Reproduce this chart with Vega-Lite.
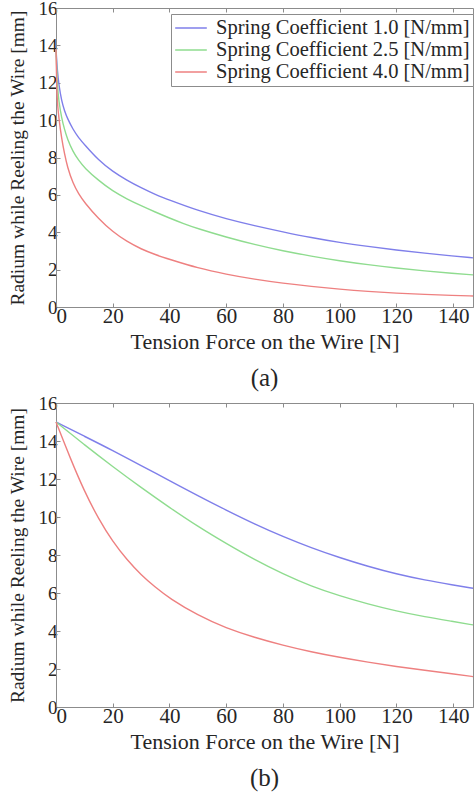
{
  "$schema": "https://vega.github.io/schema/vega-lite/v6.json",
  "padding": {"left": 6, "top": -2, "right": 0, "bottom": 0},
  "spacing": 1,
  "config": {
    "font": "Liberation Serif",
    "view": {"stroke": "#8c8c8c", "strokeWidth": 1},
    "axis": {"labelFont": "Liberation Serif", "labelFontSize": 21, "labelColor": "#262626", "labelOverlap": false, "titleFont": "Liberation Serif", "titleFontSize": 22, "titleFontWeight": "normal", "titleColor": "#262626", "domainColor": "#8c8c8c", "tickColor": "#8c8c8c", "grid": false},
    "title": {"font": "Liberation Serif", "fontSize": 25, "fontWeight": "normal", "color": "#262626", "orient": "bottom", "offset": 14},
    "line": {"strokeWidth": 1.4, "interpolate": "basis"}
  },
  "datasets": {
    "a": [
      {"k": "1.0", "F": 0, "R": 13.8}, {"k": "1.0", "F": 0.5, "R": 12.6}, {"k": "1.0", "F": 1, "R": 11.9}, {"k": "1.0", "F": 2, "R": 11.0}, {"k": "1.0", "F": 3, "R": 10.5}, {"k": "1.0", "F": 4, "R": 10.1}, {"k": "1.0", "F": 6, "R": 9.5}, {"k": "1.0", "F": 8, "R": 9.05}, {"k": "1.0", "F": 10, "R": 8.7}, {"k": "1.0", "F": 15, "R": 7.85}, {"k": "1.0", "F": 20, "R": 7.25}, {"k": "1.0", "F": 25, "R": 6.78}, {"k": "1.0", "F": 30, "R": 6.38}, {"k": "1.0", "F": 35, "R": 6.02}, {"k": "1.0", "F": 40, "R": 5.72}, {"k": "1.0", "F": 50, "R": 5.16}, {"k": "1.0", "F": 60, "R": 4.72}, {"k": "1.0", "F": 70, "R": 4.35}, {"k": "1.0", "F": 80, "R": 4.02}, {"k": "1.0", "F": 90, "R": 3.71}, {"k": "1.0", "F": 100, "R": 3.45}, {"k": "1.0", "F": 110, "R": 3.24}, {"k": "1.0", "F": 120, "R": 3.05}, {"k": "1.0", "F": 130, "R": 2.88}, {"k": "1.0", "F": 140, "R": 2.73}, {"k": "1.0", "F": 147, "R": 2.63},
      {"k": "2.5", "F": 0, "R": 13.8}, {"k": "2.5", "F": 0.5, "R": 11.8}, {"k": "2.5", "F": 1, "R": 11.0}, {"k": "2.5", "F": 2, "R": 10.1}, {"k": "2.5", "F": 3, "R": 9.5}, {"k": "2.5", "F": 4, "R": 9.0}, {"k": "2.5", "F": 6, "R": 8.3}, {"k": "2.5", "F": 8, "R": 7.85}, {"k": "2.5", "F": 10, "R": 7.45}, {"k": "2.5", "F": 15, "R": 6.77}, {"k": "2.5", "F": 20, "R": 6.2}, {"k": "2.5", "F": 25, "R": 5.78}, {"k": "2.5", "F": 30, "R": 5.42}, {"k": "2.5", "F": 35, "R": 5.08}, {"k": "2.5", "F": 40, "R": 4.76}, {"k": "2.5", "F": 45, "R": 4.46}, {"k": "2.5", "F": 50, "R": 4.19}, {"k": "2.5", "F": 60, "R": 3.74}, {"k": "2.5", "F": 70, "R": 3.34}, {"k": "2.5", "F": 80, "R": 3.0}, {"k": "2.5", "F": 90, "R": 2.72}, {"k": "2.5", "F": 100, "R": 2.47}, {"k": "2.5", "F": 110, "R": 2.26}, {"k": "2.5", "F": 120, "R": 2.08}, {"k": "2.5", "F": 130, "R": 1.93}, {"k": "2.5", "F": 140, "R": 1.8}, {"k": "2.5", "F": 147, "R": 1.72},
      {"k": "4.0", "F": 0, "R": 13.8}, {"k": "4.0", "F": 0.25, "R": 11.8}, {"k": "4.0", "F": 0.5, "R": 10.9}, {"k": "4.0", "F": 1, "R": 10.1}, {"k": "4.0", "F": 2, "R": 9.0}, {"k": "4.0", "F": 3, "R": 8.2}, {"k": "4.0", "F": 4, "R": 7.5}, {"k": "4.0", "F": 6, "R": 6.6}, {"k": "4.0", "F": 8, "R": 6.05}, {"k": "4.0", "F": 10, "R": 5.6}, {"k": "4.0", "F": 15, "R": 4.72}, {"k": "4.0", "F": 20, "R": 4.02}, {"k": "4.0", "F": 25, "R": 3.5}, {"k": "4.0", "F": 30, "R": 3.1}, {"k": "4.0", "F": 35, "R": 2.8}, {"k": "4.0", "F": 40, "R": 2.55}, {"k": "4.0", "F": 50, "R": 2.08}, {"k": "4.0", "F": 60, "R": 1.75}, {"k": "4.0", "F": 70, "R": 1.48}, {"k": "4.0", "F": 80, "R": 1.27}, {"k": "4.0", "F": 90, "R": 1.1}, {"k": "4.0", "F": 100, "R": 0.95}, {"k": "4.0", "F": 110, "R": 0.83}, {"k": "4.0", "F": 120, "R": 0.74}, {"k": "4.0", "F": 130, "R": 0.67}, {"k": "4.0", "F": 140, "R": 0.62}, {"k": "4.0", "F": 147, "R": 0.59}
    ],
    "b": [
      {"k": "1.0", "F": 0, "R": 15.0}, {"k": "1.0", "F": 10, "R": 14.25}, {"k": "1.0", "F": 20, "R": 13.5}, {"k": "1.0", "F": 30, "R": 12.7}, {"k": "1.0", "F": 40, "R": 11.92}, {"k": "1.0", "F": 50, "R": 11.12}, {"k": "1.0", "F": 60, "R": 10.36}, {"k": "1.0", "F": 70, "R": 9.63}, {"k": "1.0", "F": 80, "R": 8.97}, {"k": "1.0", "F": 90, "R": 8.38}, {"k": "1.0", "F": 100, "R": 7.86}, {"k": "1.0", "F": 110, "R": 7.4}, {"k": "1.0", "F": 120, "R": 7.0}, {"k": "1.0", "F": 130, "R": 6.68}, {"k": "1.0", "F": 140, "R": 6.42}, {"k": "1.0", "F": 147, "R": 6.25},
      {"k": "2.5", "F": 0, "R": 15.0}, {"k": "2.5", "F": 10, "R": 13.8}, {"k": "2.5", "F": 20, "R": 12.65}, {"k": "2.5", "F": 30, "R": 11.55}, {"k": "2.5", "F": 40, "R": 10.5}, {"k": "2.5", "F": 50, "R": 9.5}, {"k": "2.5", "F": 60, "R": 8.6}, {"k": "2.5", "F": 70, "R": 7.75}, {"k": "2.5", "F": 80, "R": 7.0}, {"k": "2.5", "F": 90, "R": 6.35}, {"k": "2.5", "F": 100, "R": 5.85}, {"k": "2.5", "F": 110, "R": 5.42}, {"k": "2.5", "F": 120, "R": 5.05}, {"k": "2.5", "F": 130, "R": 4.75}, {"k": "2.5", "F": 140, "R": 4.5}, {"k": "2.5", "F": 147, "R": 4.32},
      {"k": "4.0", "F": 0, "R": 15.0}, {"k": "4.0", "F": 5, "R": 13.1}, {"k": "4.0", "F": 10, "R": 11.35}, {"k": "4.0", "F": 15, "R": 9.9}, {"k": "4.0", "F": 20, "R": 8.7}, {"k": "4.0", "F": 25, "R": 7.75}, {"k": "4.0", "F": 30, "R": 6.95}, {"k": "4.0", "F": 35, "R": 6.3}, {"k": "4.0", "F": 40, "R": 5.72}, {"k": "4.0", "F": 50, "R": 4.82}, {"k": "4.0", "F": 60, "R": 4.15}, {"k": "4.0", "F": 70, "R": 3.66}, {"k": "4.0", "F": 80, "R": 3.25}, {"k": "4.0", "F": 90, "R": 2.9}, {"k": "4.0", "F": 100, "R": 2.61}, {"k": "4.0", "F": 110, "R": 2.36}, {"k": "4.0", "F": 120, "R": 2.13}, {"k": "4.0", "F": 130, "R": 1.93}, {"k": "4.0", "F": 140, "R": 1.74}, {"k": "4.0", "F": 147, "R": 1.6}
    ]
  },
  "vconcat": [
    {
      "width": 417, "height": 299,
      "title": {"text": "(a)"},
      "data": {"name": "a"},
      "encoding": {
        "y": {"field": "R", "type": "quantitative", "scale": {"domain": [0, 16], "nice": false}, "axis": {"values": [0, 2, 4, 6, 8, 10, 12, 14, 16], "labelOverlap": false, "labelFontSize": 19, "titleFontSize": 19.5, "title": "Radium while Reeling the Wire [mm]", "tickSize": -4, "labelPadding": 3, "titlePadding": 11}}
      },
      "layer": [
        {
          "mark": "line",
          "encoding": {
            "x": {"field": "F", "type": "quantitative", "scale": {"domain": [0, 147], "nice": false}, "axis": {"values": [0, 20, 40, 60, 80, 100, 120, 140], "title": "Tension Force on the Wire [N]", "tickSize": -4, "labelPadding": 2, "titlePadding": 5}},
            "color": {"field": "k", "type": "nominal", "scale": {"domain": ["1.0", "2.5", "4.0"], "range": ["#7f7fea", "#8fdc8f", "#ee8080"]}, "legend": {"orient": "none", "legendX": 115, "legendY": 6, "title": null, "labelExpr": "'Spring Coefficient ' + datum.label + ' [N/mm]'", "labelLimit": 400, "symbolType": "stroke", "symbolSize": 1000, "symbolStrokeWidth": 1.5, "clipHeight": 22, "labelFont": "Liberation Serif", "labelFontSize": 20.5, "labelColor": "#262626", "strokeColor": "#8c8c8c", "fillColor": "white", "padding": 3, "rowPadding": 0, "labelOffset": 8}}
          }
        },
        {
          "mark": {"type": "line", "opacity": 0},
          "encoding": {
            "x": {"field": "F", "type": "quantitative", "axis": {"orient": "top", "values": [0, 20, 40, 60, 80, 100, 120, 140], "labels": false, "domain": false, "title": null, "tickSize": -4, "minExtent": 0, "maxExtent": 0}}
          }
        }
      ],
      "resolve": {"axis": {"x": "independent"}}
    },
    {
      "width": 417, "height": 304,
      "title": {"text": "(b)"},
      "data": {"name": "b"},
      "encoding": {
        "y": {"field": "R", "type": "quantitative", "scale": {"domain": [0, 16], "nice": false}, "axis": {"values": [0, 2, 4, 6, 8, 10, 12, 14, 16], "labelOverlap": false, "labelFontSize": 19, "titleFontSize": 19.5, "title": "Radium while Reeling the Wire [mm]", "tickSize": -4, "labelPadding": 3, "titlePadding": 11}}
      },
      "layer": [
        {
          "mark": "line",
          "encoding": {
            "x": {"field": "F", "type": "quantitative", "scale": {"domain": [0, 147], "nice": false}, "axis": {"values": [0, 20, 40, 60, 80, 100, 120, 140], "title": "Tension Force on the Wire [N]", "tickSize": -4, "labelPadding": 2, "titlePadding": 5}},
            "color": {"field": "k", "type": "nominal", "scale": {"domain": ["1.0", "2.5", "4.0"], "range": ["#7f7fea", "#8fdc8f", "#ee8080"]}, "legend": {"orient": "none", "legendX": 115, "legendY": 4, "title": null, "labelExpr": "'Spring Coefficient ' + datum.label + ' [N/mm]'", "labelLimit": 400, "symbolType": "stroke", "symbolSize": 1000, "symbolStrokeWidth": 1.5, "clipHeight": 22, "labelFont": "Liberation Serif", "labelFontSize": 20.5, "labelColor": "#262626", "strokeColor": "#8c8c8c", "fillColor": "white", "padding": 3, "rowPadding": 0, "labelOffset": 8}}
          }
        },
        {
          "mark": {"type": "line", "opacity": 0},
          "encoding": {
            "x": {"field": "F", "type": "quantitative", "axis": {"orient": "top", "values": [0, 20, 40, 60, 80, 100, 120, 140], "labels": false, "domain": false, "title": null, "tickSize": -4, "minExtent": 0, "maxExtent": 0}}
          }
        }
      ],
      "resolve": {"axis": {"x": "independent"}}
    }
  ]
}
